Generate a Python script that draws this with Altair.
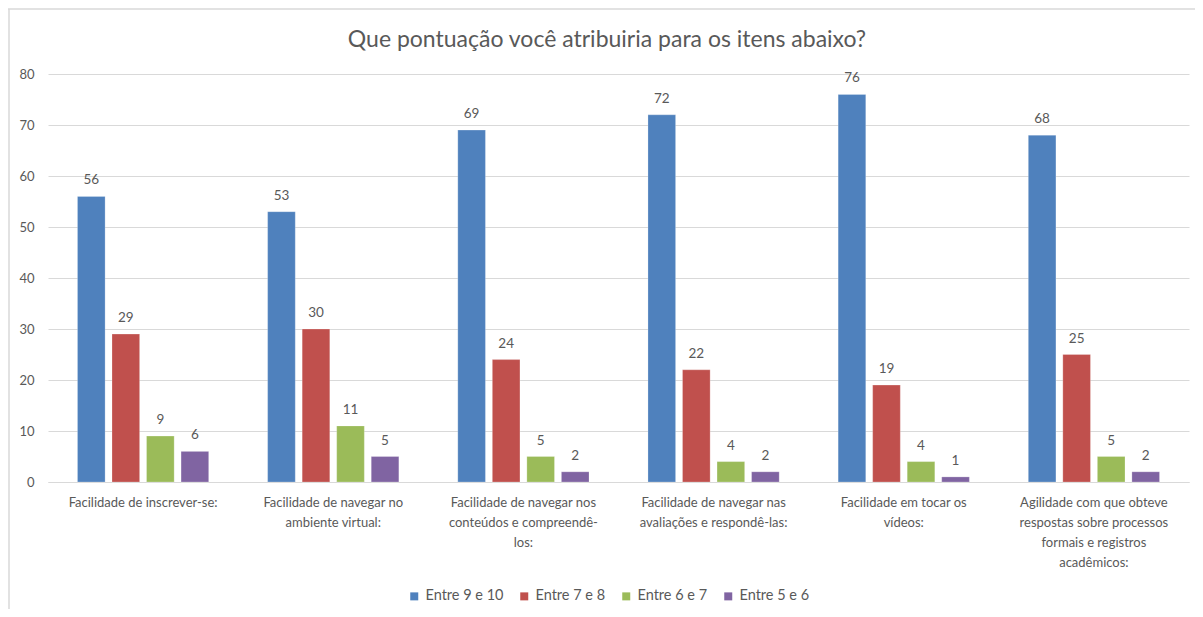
import altair as alt
import pandas as pd

title_text = "Que pontuação você atribuiria para os itens abaixo?"
categories = [
    "Facilidade de inscrever-se:",
    "Facilidade de navegar no|ambiente virtual:",
    "Facilidade de navegar nos|conteúdos e compreendê-|los:",
    "Facilidade de navegar nas|avaliações e respondê-las:",
    "Facilidade em tocar os|vídeos:",
    "Agilidade com que obteve|respostas sobre processos|formais e registros|acadêmicos:",
]
series = ["Entre 9 e 10", "Entre 7 e 8", "Entre 6 e 7", "Entre 5 e 6"]
v_9_10 = [56, 53, 69, 72, 76, 68]
v_7_8 = [29, 30, 24, 22, 19, 25]
v_6_7 = [9, 11, 5, 4, 4, 5]
v_5_6 = [6, 5, 2, 2, 1, 2]
colors = ["#4F81BD", "#C0504D", "#9BBB59", "#8064A2"]

rows = []
for s, vals in zip(series, [v_9_10, v_7_8, v_6_7, v_5_6]):
    for c, v in zip(categories, vals):
        rows.append({"cat": c, "serie": s, "valor": v})
df = pd.DataFrame(rows)

FONT = "Lato"
GRAY = "#595959"

x = alt.X("cat:N", sort=categories, title=None,
          scale=alt.Scale(paddingInner=0.31, paddingOuter=0.155),
          axis=alt.Axis(labelAngle=0, labelExpr="split(datum.label, '|')",
                        labelFont=FONT, labelFontSize=13, labelColor=GRAY,
                        labelLineHeight=20, labelPadding=14, ticks=False,
                        domainColor="#D9D9D9", labelLimit=300))
xo = alt.XOffset("serie:N", sort=series,
                 scale=alt.Scale(paddingInner=0.2, paddingOuter=0))
y = alt.Y("valor:Q", title=None,
          scale=alt.Scale(domain=[0, 80]),
          axis=alt.Axis(values=list(range(0, 81, 10)), domain=False, ticks=False,
                        gridColor="#D9D9D9", labelFont=FONT, labelFontSize=13,
                        labelColor=GRAY, labelPadding=14))
color = alt.Color("serie:N", sort=series,
                  scale=alt.Scale(domain=series, range=colors),
                  legend=alt.Legend(title=None, orient="none", direction="horizontal",
                                    legendX=359, legendY=515, symbolType="square",
                                    symbolSize=64, symbolStrokeWidth=0,
                                    labelFont=FONT, labelFontSize=14.5, labelColor=GRAY,
                                    labelOffset=4, columnPadding=13))

bars = alt.Chart(df).mark_bar(stroke="white", strokeWidth=0.4, strokeOpacity=0.6).encode(
    x=x, xOffset=xo, y=y, color=color)

labels = alt.Chart(df).mark_text(font=FONT, fontSize=13.5, color=GRAY,
                                 baseline="alphabetic", dy=-12).encode(
    x=alt.X("cat:N", sort=categories), xOffset=alt.XOffset("serie:N", sort=series),
    y="valor:Q", text="valor:Q")

one = pd.DataFrame([{"t": title_text}])
title = alt.Chart(one).mark_text(font=FONT, fontSize=23, color=GRAY,
                                 align="center", baseline="middle").encode(
    x=alt.value(559), y=alt.value(-34), text="t:N")
top_line = alt.Chart(one).mark_rule(color="#D9D9D9", strokeWidth=1.5).encode(
    x=alt.value(-41), x2=alt.value(1160), y=alt.value(-65))
left_line = alt.Chart(one).mark_rule(color="#D9D9D9", strokeWidth=1.5).encode(
    x=alt.value(-39), y=alt.value(-65), y2=alt.value(540))

chart = alt.layer(top_line, left_line, title, bars, labels).properties(
    width=1141, height=408,
    autosize=alt.AutoSizeParams(type="none"),
    padding={"left": 40, "top": 66, "right": 6, "bottom": 127},
    background="white",
).configure_view(stroke=None)

chart.save("out.html", embed_options={"renderer": "svg", "actions": False})
